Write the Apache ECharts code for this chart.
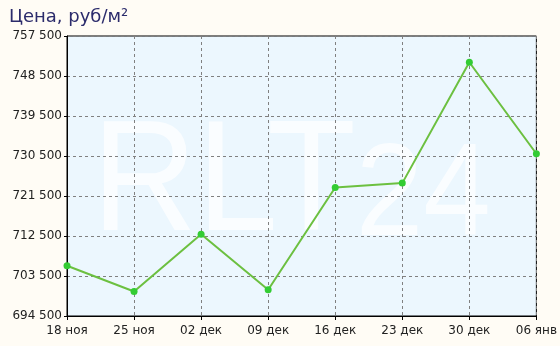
<!DOCTYPE html>
<html><head><meta charset="utf-8">
<script src="https://cdn.jsdelivr.net/npm/echarts@6/dist/echarts.min.js"></script>
<style>html,body{margin:0;padding:0;background:#fffcf5;}#c{width:560px;height:346px;}</style>
</head><body><div id="c"></div>
<script>
const categories = ['18 ноя','25 ноя','02 дек','09 дек','16 дек','23 дек','30 дек','06 янв'];
const prices = [705800, 700000, 712900, 700400, 723400, 724400, 751600, 731000];
const yMin = 694500, yMax = 757500, yStep = 9000;

function fmt(v){ return String(Math.round(v)).replace(/\B(?=(\d{3})+(?!\d))/g,' '); }

const chart = echarts.init(document.getElementById('c'), null, {renderer:'canvas'});
chart.setOption({
  backgroundColor: '#fffcf5',
  animation: false,
  title: {
    text: 'Цена, руб/м²', left: 4, top: 3,
    textStyle: {fontFamily: 'DejaVu Sans', fontSize: 18, fontWeight: 'normal', color: '#2b2b6b'}
  },
  grid: {
    left: 67, right: 23, top: 36, bottom: 30, show: true,
    backgroundColor: '#ecf7fe', borderColor: '#000', borderWidth: 1, z: -2
  },
  graphic: [{
    type: 'text', x: 92, y: 107, z: -1, silent: true, scaleX: 0.92, scaleY: 1,
    style: {
      text: '{a|RLT}{b|24}',
      rich: {
        a: {fontFamily: 'Liberation Sans', fontSize: 158, fill: 'rgba(255,255,255,0.72)', verticalAlign: 'bottom'},
        b: {fontFamily: 'Liberation Sans', fontSize: 132, fill: 'rgba(255,255,255,0.72)', verticalAlign: 'bottom'}
      }
    }
  }],
  xAxis: {
    type: 'category', data: categories, boundaryGap: false,
    axisLine: {lineStyle: {color: '#000', width: 1}},
    axisTick: {show: true, length: 4, inside: false, lineStyle: {color: '#000'}},
    axisLabel: {fontFamily: 'DejaVu Sans', fontSize: 12, color: '#222', margin: 9},
    splitLine: {show: true, lineStyle: {color: '#808080', type: [3,3], width: 1}}
  },
  yAxis: {
    type: 'value', min: 0, max: yMax - yMin, interval: yStep,
    axisLine: {show: true, lineStyle: {color: '#000', width: 1}},
    axisTick: {show: true, length: 3, lineStyle: {color: '#000'}},
    axisLabel: {fontFamily: 'DejaVu Sans', fontSize: 12, color: '#222', margin: 5,
      formatter: v => fmt(v + yMin)},
    splitLine: {show: true, lineStyle: {color: '#808080', type: [3,3], width: 1}}
  },
  series: [{
    type: 'line', data: prices.map(p => p - yMin),
    lineStyle: {color: '#6cc040', width: 2},
    itemStyle: {color: '#33cc33'},
    symbol: 'circle', symbolSize: 7, showSymbol: true, z: 3
  }]
});
</script></body></html>
